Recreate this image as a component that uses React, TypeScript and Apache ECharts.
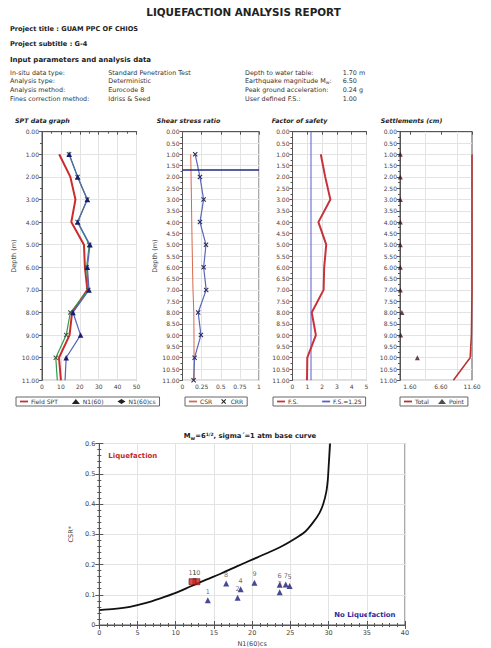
import React, { useEffect, useRef } from 'react';
import * as echarts from 'echarts';

const FONT = 'DejaVu Sans, Verdana, sans-serif';

// ---- Data ----
const DEPTHS = [1, 2, 3, 4, 5, 6, 7, 8, 9, 10, 11];
const FIELD_SPT = [9.1, 15, 17.7, 15.5, 22.2, 22.7, 24, 15.9, 14.6, 9, 10];
const N160 = [14.3, 18.8, 23.9, 18.8, 25.0, 23.6, 24.5, 15.0, 12.8, 7.3, 8.1];
const N160CS = [14.4, 18.9, 24, 18.9, 25.4, 24, 24.9, 16.4, 20.4, 12.8, 12.2];

const CSR = [0.108, 0.112, 0.117, 0.121, 0.126, 0.131, 0.137, 0.148, 0.15, 0.151, 0.152];
const CRR = [0.166, 0.228, 0.276, 0.228, 0.307, 0.276, 0.31, 0.205, 0.241, 0.158, 0.145];
const WATER_TABLE = 1.7;

const FS = [1.91, 2.21, 2.56, 1.75, 2.28, 2.14, 2.1, 1.3, 1.58, 1.0, 0.98];
const FS_LIMIT = 1.25;

const SETTLE_TOTAL = [11.6, 11.6, 11.6, 11.6, 11.6, 11.6, 11.6, 11.55, 11.5, 11.3, 8.6];
const SETTLE_POINT = [0.05, 0.05, 0.05, 0.05, 0.05, 0.05, 0.05, 0.3, 0.1, 2.8];
const SETTLE_LABELS = [1.6, 6.6, 11.6];

const CHART_LABELS = ['1', '2', '3', '4', '5', '6', '7', '8', '9', '10', '11'];
const CHART_N = [14.2, 18.1, 23.6, 18.5, 24.9, 23.6, 24.4, 16.6, 20.3, 12.7, 12.2];
const CHART_CSR = [0.082, 0.09, 0.108, 0.118, 0.129, 0.133, 0.134, 0.137, 0.14, 0.143, 0.143];
const LIQUEFIED = [false, false, false, false, false, false, false, false, false, true, true];

const CURVE_N = [0, 2, 4, 6, 8, 10, 12, 14, 16, 18, 20, 22, 24, 26, 27, 28, 28.8, 29.3, 29.7, 29.9, 30, 30.1, 30.2];
const CURVE_CSR = [0.049, 0.053, 0.06, 0.072, 0.088, 0.106, 0.128, 0.15, 0.171, 0.194, 0.216, 0.238, 0.262, 0.292, 0.31, 0.34, 0.37, 0.4, 0.44, 0.48, 0.52, 0.56, 0.6];

const INFO_ROWS = [
  ['In-situ data type:', 'Standard Penetration Test', 'Depth to water table:', '1.70 m'],
  ['Analysis type:', 'Deterministic', 'Earthquake magnitude M{s|w}:', '6.50'],
  ['Analysis method:', 'Eurocode 8', 'Peak ground acceleration:', '0.24 g'],
  ['Fines correction method:', 'Idriss & Seed', 'User defined F.S.:', '1.00'],
];

const XMARK = 'path://M0,1.5L1.5,0L5,3.5L8.5,0L10,1.5L6.5,5L10,8.5L8.5,10L5,6.5L1.5,10L0,8.5L3.5,5Z';
const DASH = 'path://M0,0h10v2.2h-10z';

// ---- Layout ----
const TOP = 131.7;
const H = 248.6;
const GRIDS = [
  { left: 42, top: TOP, width: 94.5, height: H },
  { left: 182.5, top: TOP, width: 76.5, height: H },
  { left: 292.5, top: TOP, width: 74, height: H },
  { left: 400, top: TOP, width: 72, height: H },
  { left: 99.3, top: 443.5, width: 305.7, height: 184.2 },
];

const lineC = '#555';
const axisBase = (gi: number) => ({
  type: 'value',
  gridIndex: gi,
  axisLine: { show: true, lineStyle: { color: lineC, width: 1 } },
  axisTick: { show: true, length: 3, lineStyle: { color: lineC } },
  axisLabel: { fontSize: 6, color: '#444', margin: 3, fontFamily: FONT },
  splitLine: { show: true, lineStyle: { color: '#e3e3e3', width: 1 } },
});

const depthAxis = (gi: number, step: number, name?: string) => ({
  ...axisBase(gi),
  inverse: true,
  min: 0,
  max: 11,
  interval: step,
  axisLabel: { fontSize: 6, color: '#444', margin: 3, fontFamily: FONT, formatter: (v: number) => v.toFixed(2) },
  minorTick: { show: true, splitNumber: 2, length: 2, lineStyle: { color: lineC } },
  minorSplitLine: { show: false },
  name: name || '',
  nameLocation: 'middle',
  nameGap: 21,
  nameTextStyle: { fontSize: 6.5, color: '#444', fontFamily: FONT },
});

const zip = (xs: number[], ys: number[]) => xs.map((x, i) => [x, ys[i]]);

function txt(text: string, x: number, y: number, o: any = {}) {
  return {
    type: 'text',
    x,
    y,
    silent: true,
    style: {
      text,
      fill: o.fill || '#333',
      fontSize: o.size || 6.5,
      fontWeight: o.bold ? 'bold' : 'normal',
      fontStyle: o.italic ? 'italic' : 'normal',
      fontFamily: FONT,
      textAlign: o.align || 'left',
      textVerticalAlign: 'middle',
      rich: o.rich,
    },
  };
}

const legendBase = {
  selectedMode: false,
  orient: 'horizontal',
  borderColor: '#666',
  borderWidth: 1,
  padding: [1.5, 4],
  itemWidth: 8,
  itemHeight: 5,
  itemGap: 9,
  symbolKeepAspect: true,
  textStyle: { fontSize: 6, color: '#333', fontFamily: FONT, padding: [0, 0, 0, -2] },
};

function buildOption() {
  const graphics: any[] = [];
  graphics.push(txt('LIQUEFACTION ANALYSIS REPORT', 243.5, 11.7, { size: 10.4, bold: true, align: 'center', fill: '#222' }));
  graphics.push(txt('Project title : GUAM PPC OF CHIOS', 10, 29, { size: 6.6, bold: true, fill: '#222' }));
  graphics.push(txt('Project subtitle : G-4', 10, 44, { size: 6.6, bold: true, fill: '#222' }));
  graphics.push(txt('Input parameters and analysis data', 10, 60, { size: 7, bold: true, fill: '#222' }));
  const rowY = [72.7, 81.2, 89.8, 98.5];
  const colX = [10, 108.3, 245, 342.7];
  INFO_ROWS.forEach((row, r) => {
    row.forEach((cell, c) => {
      graphics.push(
        txt(cell, colX[c], rowY[r], {
          size: 6.4,
          fill: '#333',
          rich: { s: { fontSize: 4.6, fontFamily: FONT, fill: '#333', padding: [3, 0, 0, 0] } },
        })
      );
    });
  });
  graphics.push(txt('SPT data graph', 15, 120.5, { size: 6.3, bold: true, italic: true, fill: '#222' }));
  graphics.push(txt('Shear stress ratio', 156.7, 120.5, { size: 6.3, bold: true, italic: true, fill: '#222' }));
  graphics.push(txt('Factor of safety', 271.7, 120.5, { size: 6.3, bold: true, italic: true, fill: '#222' }));
  graphics.push(txt('Settlements (cm)', 380.7, 120.5, { size: 6.3, bold: true, italic: true, fill: '#222' }));
  graphics.push(txt('Liquefaction', 108.3, 455.5, { size: 7, bold: true, fill: '#c42a2a' }));
  graphics.push(txt('No Liquefaction', 334.3, 614.7, { size: 6.9, bold: true, fill: '#2a2a9e' }));

  const depthData = (vals: number[]) => zip(vals, DEPTHS);
  const markedLast = (vals: number[]) =>
    vals.map((v, i) => (i === vals.length - 1 ? { value: [v, DEPTHS[i]], symbol: 'none' } : [v, DEPTHS[i]]));

  const series: any[] = [
    {
      name: 'Field SPT', type: 'line', xAxisIndex: 0, yAxisIndex: 0,
      data: depthData(FIELD_SPT), symbol: 'none',
      lineStyle: { color: '#cc2b2b', width: 2 }, itemStyle: { color: '#cc2b2b' }, z: 3,
    },
    {
      name: 'N1(60)', type: 'line', xAxisIndex: 0, yAxisIndex: 0,
      data: markedLast(N160), symbol: XMARK, symbolSize: 5,
      lineStyle: { color: '#2f9a4c', width: 1.2 }, itemStyle: { color: '#3c5a40' }, z: 4,
    },
    {
      name: 'N1(60)cs', type: 'line', xAxisIndex: 0, yAxisIndex: 0,
      data: markedLast(N160CS), symbol: 'triangle', symbolSize: 5.5,
      lineStyle: { color: '#5563b8', width: 1.2 }, itemStyle: { color: '#1b1b72' }, z: 5,
    },
    {
      name: 'CSR', type: 'line', xAxisIndex: 1, yAxisIndex: 1,
      data: depthData(CSR), symbol: 'none',
      lineStyle: { color: '#d4694c', width: 1 }, itemStyle: { color: '#d4694c' },
    },
    {
      name: 'CRR', type: 'line', xAxisIndex: 1, yAxisIndex: 1,
      data: depthData(CRR), symbol: XMARK, symbolSize: 5,
      lineStyle: { color: '#5a66b8', width: 1.2 }, itemStyle: { color: '#2a2a62' },
      markLine: {
        silent: true, symbol: 'none', label: { show: false },
        lineStyle: { color: '#1f2a80', width: 1.5, type: 'solid' },
        data: [{ yAxis: WATER_TABLE }],
      },
    },
    {
      name: 'F.S.', type: 'line', xAxisIndex: 2, yAxisIndex: 2,
      data: depthData(FS), symbol: 'none',
      lineStyle: { color: '#c8323a', width: 2 }, itemStyle: { color: '#c8323a' }, z: 4,
    },
    {
      name: 'F.S.=1.25', type: 'line', xAxisIndex: 2, yAxisIndex: 2,
      data: [[FS_LIMIT, 0], [FS_LIMIT, 11]], symbol: 'none',
      lineStyle: { color: '#5b5bd0', width: 1 }, itemStyle: { color: '#5b5bd0' }, z: 3,
    },
    {
      name: 'Total', type: 'line', xAxisIndex: 3, yAxisIndex: 3,
      data: depthData(SETTLE_TOTAL), symbol: 'none', clip: false,
      lineStyle: { color: '#b83030', width: 1.5 }, itemStyle: { color: '#b83030' },
      markLine: {
        silent: true, symbol: 'none', label: { show: false },
        lineStyle: { color: '#e3e3e3', width: 1, type: 'solid' },
        data: [{ xAxis: 4.1 }, { xAxis: 9.3 }],
        z: 1,
      },
    },
    {
      name: 'Point', type: 'scatter', xAxisIndex: 3, yAxisIndex: 3,
      data: zip(SETTLE_POINT, DEPTHS.slice(0, SETTLE_POINT.length)),
      symbol: 'triangle', symbolSize: 5, itemStyle: { color: '#3a1a1a' }, clip: false,
    },
    {
      name: 'Base curve', type: 'line', xAxisIndex: 4, yAxisIndex: 4,
      data: zip(CURVE_N, CURVE_CSR), symbol: 'none', smooth: 0.3,
      lineStyle: { color: '#111', width: 1.8 },
    },
    {
      name: 'No liq', type: 'scatter', xAxisIndex: 4, yAxisIndex: 4,
      data: CHART_N.map((n, i) => [n, CHART_CSR[i], CHART_LABELS[i]]).filter((_, i) => !LIQUEFIED[i]),
      symbol: 'triangle', symbolSize: 6, itemStyle: { color: '#1a1a78' },
      label: { show: true, position: 'top', distance: 2, fontSize: 6.5, color: '#444', fontFamily: FONT, formatter: (p: any) => p.data[2] },
      z: 5,
    },
    {
      name: 'Liq', type: 'scatter', xAxisIndex: 4, yAxisIndex: 4,
      data: CHART_N.map((n, i) => [n, CHART_CSR[i], CHART_LABELS[i]]).filter((_, i) => LIQUEFIED[i]),
      symbol: 'rect', symbolSize: [7, 6], itemStyle: { color: '#d42222', borderColor: '#5a1010', borderWidth: 0.8 },
      label: { show: true, position: 'top', distance: 2, fontSize: 6.5, color: '#444', fontFamily: FONT, formatter: (p: any) => p.data[2] },
      z: 6,
    },
  ];

  const dark = { color: '#222' };
  const option: any = {
    animation: false,
    backgroundColor: '#fff',
    textStyle: { fontFamily: FONT },
    title: {
      text: '{b|M}{s|w}{b|=6}{p|1/2}{b|, sigma΄=1 atm base curve}',
      left: 245, top: 426, textAlign: 'center',
      textStyle: {
        rich: {
          b: { fontSize: 6.8, fontWeight: 'bold', color: '#222', fontFamily: FONT, lineHeight: 10 },
          s: { fontSize: 5, fontWeight: 'bold', color: '#222', fontFamily: FONT, lineHeight: 10, padding: [4, 0, 0, 0] },
          p: { fontSize: 4.5, color: '#222', fontFamily: FONT, lineHeight: 10, padding: [0, 0, 4, 0] },
        },
      },
    },
    grid: GRIDS.map((g) => ({ ...g, show: true, borderColor: lineC, borderWidth: 1, containLabel: false })),
    graphic: graphics,
    legend: [
      {
        ...legendBase, left: 16, top: 397, itemGap: 14,
        data: [
          { name: 'Field SPT', icon: DASH },
          { name: 'N1(60)', icon: 'triangle', itemStyle: dark },
          { name: 'N1(60)cs', icon: 'diamond', itemStyle: dark },
        ],
      },
      {
        ...legendBase, left: 185, top: 397,
        data: [{ name: 'CSR', icon: DASH }, { name: 'CRR', icon: XMARK, itemStyle: dark }],
      },
      {
        ...legendBase, left: 273, top: 397, itemGap: 24,
        data: [{ name: 'F.S.', icon: DASH }, { name: 'F.S.=1.25', icon: DASH }],
      },
      {
        ...legendBase, left: 400, top: 397,
        data: [{ name: 'Total', icon: DASH }, { name: 'Point', icon: 'triangle', itemStyle: dark }],
      },
    ],
    xAxis: [
      { ...axisBase(0), min: 0, max: 50, interval: 10, minorTick: { show: true, splitNumber: 2, length: 2, lineStyle: { color: lineC } } },
      { ...axisBase(1), min: 0, max: 1, interval: 0.25 },
      { ...axisBase(2), min: 0, max: 5, interval: 1 },
      {
        ...axisBase(3), min: 0, max: 11.6,
        axisTick: { show: true, length: 3, lineStyle: { color: lineC }, customValues: SETTLE_LABELS },
        axisLabel: { fontSize: 6, color: '#444', margin: 3, fontFamily: FONT, customValues: SETTLE_LABELS, formatter: (v: number) => v.toFixed(2) },
        splitLine: { show: false },
      },
      {
        ...axisBase(4), min: 0, max: 40, interval: 5,
        axisTick: { show: true, length: 4, lineStyle: { color: lineC } },
        minorTick: { show: true, splitNumber: 5, length: 2, lineStyle: { color: lineC } },
        axisLabel: { fontSize: 6.5, color: '#444', margin: 4, fontFamily: FONT },
        name: 'N1(60)cs', nameLocation: 'middle', nameGap: 15,
        nameTextStyle: { fontSize: 6.5, color: '#444', fontFamily: FONT },
      },
      {
        ...axisBase(4), position: 'top', min: 0, max: 40, interval: 5,
        axisLabel: { show: false }, splitLine: { show: false },
        axisTick: { show: true, length: 4, lineStyle: { color: lineC } },
        minorTick: { show: true, splitNumber: 5, length: 2, lineStyle: { color: lineC } },
      },
    ],
    yAxis: [
      depthAxis(0, 1, 'Depth (m)'),
      depthAxis(1, 0.5, 'Depth (m)'),
      depthAxis(2, 0.5),
      { ...depthAxis(3, 0.5), splitLine: { show: true, lineStyle: { color: '#e3e3e3', width: 1 } } },
      {
        ...axisBase(4), min: 0, max: 0.6, interval: 0.1,
        axisTick: { show: true, length: 4, lineStyle: { color: lineC } },
        minorTick: { show: true, splitNumber: 5, length: 2, lineStyle: { color: lineC } },
        axisLabel: { fontSize: 6.5, color: '#444', margin: 4, fontFamily: FONT },
        name: 'CSR*', nameLocation: 'middle', nameGap: 20,
        nameTextStyle: { fontSize: 6.5, color: '#444', fontFamily: FONT },
      },
      {
        ...axisBase(4), position: 'right', min: 0, max: 0.6, interval: 0.1,
        axisLabel: { show: false }, splitLine: { show: false },
        axisTick: { show: true, length: 4, lineStyle: { color: lineC } },
        minorTick: { show: true, splitNumber: 5, length: 2, lineStyle: { color: lineC } },
      },
    ],
    series,
  };
  return option;
}

export default function App() {
  const ref = useRef<HTMLDivElement>(null);
  useEffect(() => {
    document.body.style.margin = '0';
    const chart = echarts.init(ref.current as HTMLDivElement, null, { renderer: 'svg' });
    chart.setOption(buildOption());
    return () => chart.dispose();
  }, []);
  return <div ref={ref} style={{ width: 491, height: 648, background: '#fff' }} />;
}
